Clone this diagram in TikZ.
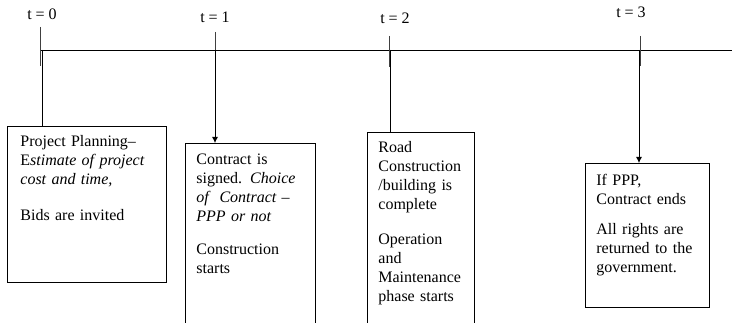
\documentclass[tikz,border=0pt]{standalone}
\usepackage{fontspec}
\setmainfont{Liberation Serif}
\usetikzlibrary{arrows.meta,positioning}
\begin{document}
\begin{tikzpicture}[x=1pt,y=-1pt,
  line width=0.8pt,
  boxst/.style={draw, line width=0.8pt, rectangle, inner sep=0pt, anchor=north west},
  txt/.style={anchor=base west, inner sep=0pt, align=left, font=\fontsize{16}{19}\selectfont},
  lbl/.style={anchor=base, inner sep=0pt, font=\fontsize{16}{19}\selectfont},
  tick/.style={line width=0.9pt, draw=black!75},
  conn/.style={line width=0.8pt},
  arr/.style={conn, -{Latex[length=6pt,width=6pt]}}]
\useasboundingbox (0,0) rectangle (732,323);
\clip (0,0) rectangle (732,323);
% axis
\coordinate (ax0) at (41,50);
\coordinate (axe) at (732,50);
\draw (ax0) -- (axe);
% points on the axis
\coordinate (a0) at (42,50);
\coordinate (a1) at (215,50);
\coordinate (a2) at (390,50);
\coordinate (a3) at (639,50);
% ticks
\draw[tick] (40,27) -- (40,66);
\draw[tick] (215,32) -- (215,72);
\draw[tick] (389,36) -- (389,67);
\draw[tick] (640,36) -- (640,66);
% labels
\node[lbl] (l0) at (42,20) {t = 0};
\node[lbl] (l1) at (215,23) {t = 1};
\node[lbl] (l2) at (395,24) {t = 2};
\node[lbl] (l3) at (631,18) {t = 3};
% boxes
\node[boxst, minimum width=159pt, minimum height=156pt] (b1) at (7,126) {};
\node[boxst, minimum width=130pt, minimum height=200pt] (b2) at (185,143) {};
\node[boxst, minimum width=107pt, minimum height=191pt] (b3) at (367,132) {};
\node[boxst, minimum width=124pt, minimum height=144pt] (b4) at (585,163) {};
% texts
\node[txt, text width=140pt] (t1) at (20,147) {Project Planning–\\E\textit{stimate of project}\\\textit{cost and time,}\\[17pt]Bids are invited};
\node[txt, text width=118pt] (t2) at (196,165) {Contract is\\signed. \textit{Choice}\\\textit{of\ \ Contract –}\\\textit{PPP or not}\\[14pt]Construction\\starts};
\node[txt, text width=95pt] (t3) at (378,153) {Road\\Construction\\/building is\\complete\\[16pt]Operation\\and\\Maintenance\\phase starts};
\node[txt, text width=112pt] (t4) at (596,186) {If PPP,\\Contract ends\\[11pt]All rights are\\returned to the\\government.};
% connectors
\draw[conn] (a0) -- (a0 |- b1.north);
\draw[arr] (a1) -- (a1 |- b2.north);
\draw[conn] (a2) -- (a2 |- b3.north);
\draw[arr] (a3) -- (a3 |- b4.north);
\end{tikzpicture}
\end{document}
